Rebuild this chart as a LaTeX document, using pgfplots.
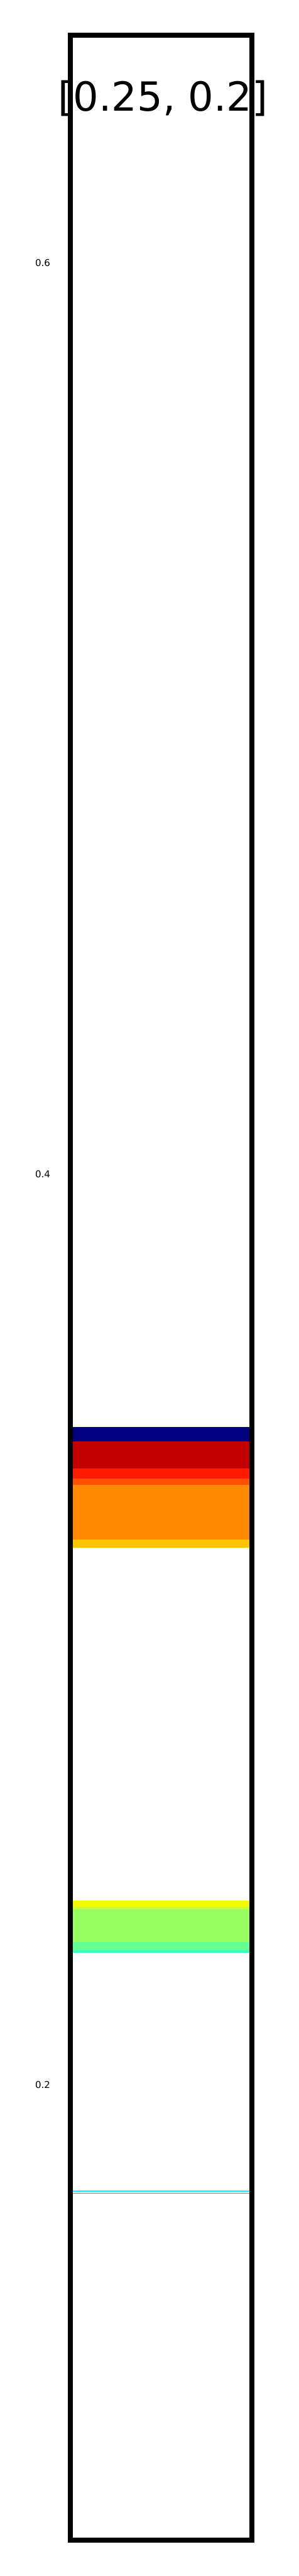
\documentclass[border=0pt]{standalone}
\usepackage{pgfplots}
\pgfplotsset{compat=1.18}
\usepackage{fontspec}
\setmainfont{DejaVu Sans}
\definecolor{cnavy}{HTML}{000080}
\definecolor{cdred}{HTML}{C20000}
\definecolor{cred}{HTML}{FF1A00}
\definecolor{cored}{HTML}{FF4F00}
\definecolor{corange}{HTML}{FF8A00}
\definecolor{cgold}{HTML}{FFC400}
\definecolor{cyellow}{HTML}{F4F800}
\definecolor{cygreen}{HTML}{C8FF2F}
\definecolor{clgreen}{HTML}{97FF5F}
\definecolor{cgreen}{HTML}{64FF92}
\definecolor{caqua}{HTML}{36FFC1}
\definecolor{ccyan}{HTML}{0CF0FF}
\definecolor{cblue}{HTML}{2E9CFF}
\begin{document}
\begin{tikzpicture}
\path[use as bounding box] (0,0) rectangle (150.6pt,1296pt);
\begin{axis}[
  at={(35.3pt,18.1pt)}, anchor=south west,
  scale only axis, width=91.56pt, height=1260.1pt,
  xmin=0, xmax=1, ymin=0.1, ymax=0.65,
  xtick=\empty, ytick={0.2,0.4,0.6},
  major tick length=0pt,
  axis line style={line width=2.5pt, black},
  axis on top,
  /pgf/number format/assume math mode=true,
  yticklabel style={font=\fontsize{4.76}{5}\selectfont, inner sep=0pt, anchor=east, xshift=-9.8pt},
  title={[0.25, 0.2]},
  every axis title shift=0pt,
  title style={at={(0.5,1)}, anchor=base, inner sep=0pt, yshift=-38pt, xshift=0.9pt, font=\fontsize{20.2}{24}\selectfont},
]
\addplot[fill=cnavy, draw=none] coordinates {(0,0.34436) (1,0.34436) (1,0.34122) (0,0.34122)} -- cycle;
\addplot[fill=cdred, draw=none] coordinates {(0,0.34122) (1,0.34122) (1,0.33529) (0,0.33529)} -- cycle;
\addplot[fill=cred, draw=none] coordinates {(0,0.33529) (1,0.33529) (1,0.33304) (0,0.33304)} -- cycle;
\addplot[fill=cored, draw=none] coordinates {(0,0.33304) (1,0.33304) (1,0.33173) (0,0.33173)} -- cycle;
\addplot[fill=corange, draw=none] coordinates {(0,0.33173) (1,0.33173) (1,0.31977) (0,0.31977)} -- cycle;
\addplot[fill=cgold, draw=none] coordinates {(0,0.31977) (1,0.31977) (1,0.31791) (0,0.31791)} -- cycle;
\addplot[fill=cyellow, draw=none] coordinates {(0,0.24039) (1,0.24039) (1,0.23899) (0,0.23899)} -- cycle;
\addplot[fill=cygreen, draw=none] coordinates {(0,0.23899) (1,0.23899) (1,0.23844) (0,0.23844)} -- cycle;
\addplot[fill=clgreen, draw=none] coordinates {(0,0.23844) (1,0.23844) (1,0.23138) (0,0.23138)} -- cycle;
\addplot[fill=cgreen, draw=none] coordinates {(0,0.23138) (1,0.23138) (1,0.22954) (0,0.22954)} -- cycle;
\addplot[fill=caqua, draw=none] coordinates {(0,0.22954) (1,0.22954) (1,0.22890) (0,0.22890)} -- cycle;
\addplot[fill=ccyan, draw=none] coordinates {(0,0.17675) (1,0.17675) (1,0.17649) (0,0.17649)} -- cycle;
\addplot[fill=cblue, draw=none] coordinates {(0,0.17625) (1,0.17625) (1,0.17608) (0,0.17608)} -- cycle;
\end{axis}
\end{tikzpicture}
\end{document}
